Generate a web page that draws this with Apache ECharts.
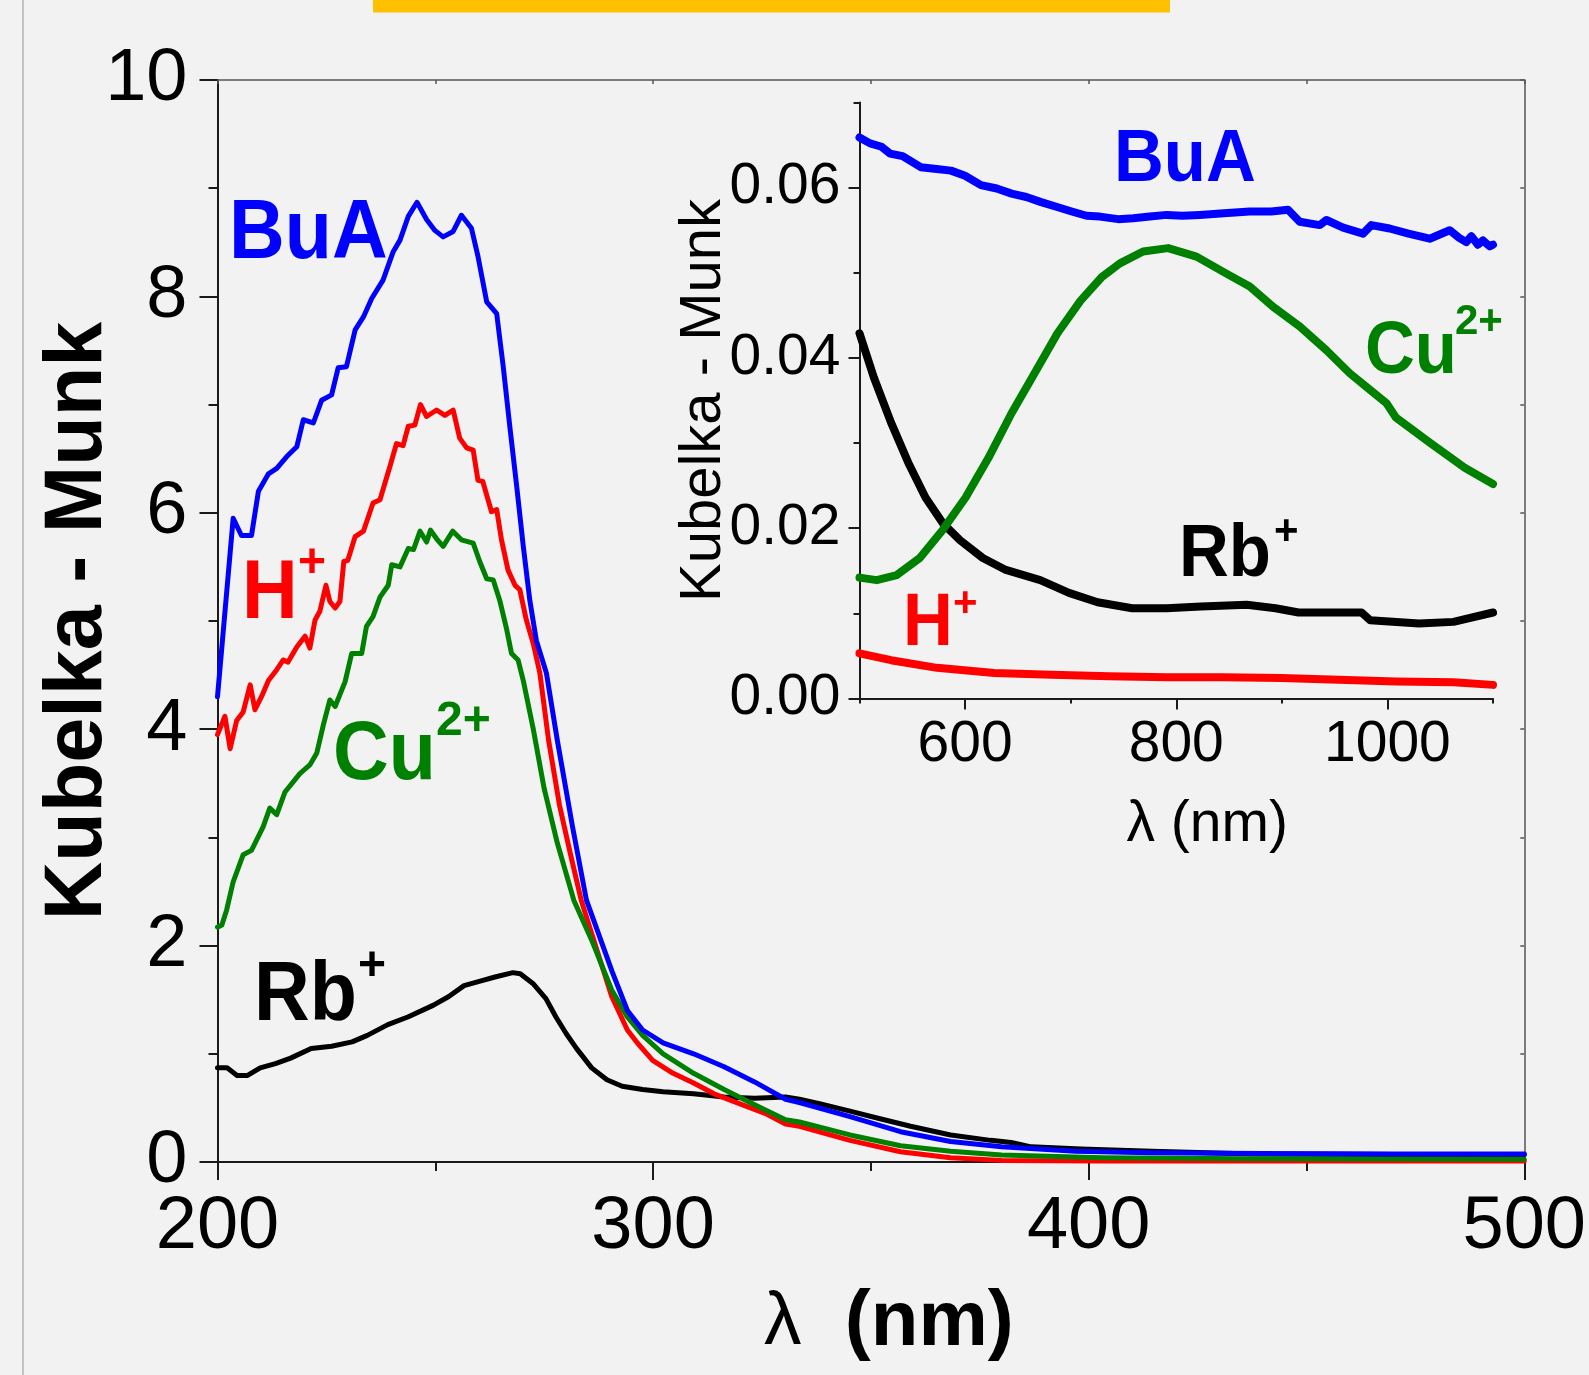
<!DOCTYPE html>
<html>
<head>
<meta charset="utf-8">
<script src="https://cdn.jsdelivr.net/npm/echarts@6/dist/echarts.min.js"></script>
<style>
  html, body { margin: 0; padding: 0; background: #f2f2f2; }
  #chart { width: 1589px; height: 1375px; }
</style>
</head>
<body>
<div id="chart"></div>
<script>
// main panel, lambda (nm) vs Kubelka-Munk
const buaMain = [[200,4.3],[203.6,5.95],[205.5,5.79],[207.8,5.79],[209.4,6.2],[211.7,6.36],[213.6,6.41],[215.9,6.52],[218.2,6.61],[219.7,6.86],[222,6.83],[223.9,7.04],[226.2,7.09],[227.7,7.34],[229.6,7.35],[231.6,7.69],[233.5,7.81],[235.4,7.98],[238,8.15],[240.3,8.41],[241.9,8.52],[243.8,8.74],[245.8,8.87],[248,8.71],[249.9,8.61],[251.8,8.55],[254.1,8.6],[256,8.75],[258.3,8.63],[259.8,8.37],[261.8,7.95],[264.1,7.84],[265.6,7.35],[267.1,6.8],[268.7,6.24],[270.2,5.69],[271.7,5.19],[273.2,4.82],[275.5,4.52],[278,3.9],[281.5,3.1],[284.7,2.42],[290.6,1.76],[294.1,1.4],[297.6,1.22],[302.3,1.1],[309.3,1.0],[316.3,0.88],[323.3,0.74],[330.4,0.58],[333.6,0.55],[345.2,0.42],[356.8,0.28],[368.3,0.19],[380,0.14],[397,0.1],[414,0.085],[440,0.078],[470,0.075],[500,0.074]];
const hMain = [[200,3.95],[201.7,4.12],[202.9,3.82],[204.4,4.08],[205.9,4.16],[207.5,4.41],[208.6,4.18],[210.1,4.3],[211.7,4.45],[213.6,4.55],[215.1,4.64],[216.2,4.62],[218.2,4.76],[220.1,4.86],[221.2,4.75],[222.4,5.01],[223.5,5.09],[224.9,5.33],[225.8,5.18],[227,5.12],[228.1,5.18],[229,5.55],[229.9,5.56],[231.6,5.78],[233.5,5.83],[235.7,6.09],[237.3,6.12],[239.6,6.43],[241.1,6.64],[242.6,6.62],[243.8,6.8],[245.3,6.81],[246.6,7.0],[248,6.89],[250.3,6.95],[252.2,6.9],[254.1,6.95],[255.6,6.69],[257.2,6.6],[258.7,6.58],[259.8,6.3],[260.9,6.29],[262.9,6.01],[264.1,6.03],[265.2,5.75],[266.7,5.47],[268.3,5.33],[269.4,5.29],[270.9,5.01],[272.5,4.79],[274,4.52],[276,3.9],[278.5,3.3],[281,2.85],[283.5,2.42],[287.1,1.96],[290.5,1.53],[294.1,1.22],[296.4,1.1],[299.9,0.94],[304.6,0.82],[309.3,0.73],[314,0.63],[319.8,0.54],[325.7,0.45],[330.4,0.35],[333.6,0.33],[345.2,0.2],[356.8,0.095],[368.3,0.04],[380,0.015],[403,0.01],[450,0.01],[500,0.01]];
const cuMain = [[200,2.17],[201,2.19],[202.1,2.33],[203.6,2.59],[205.9,2.84],[207.8,2.88],[210.5,3.1],[212,3.27],[213.6,3.21],[215.5,3.42],[218.9,3.59],[221.2,3.67],[222.8,3.78],[224.3,4.04],[225.8,4.27],[227,4.21],[229.3,4.44],[230.8,4.7],[233.1,4.7],[234.2,4.95],[235.7,5.04],[237.3,5.22],[239.2,5.33],[240,5.52],[241.9,5.5],[243.8,5.67],[245,5.66],[246.5,5.83],[248,5.73],[248.9,5.84],[250.3,5.76],[251.8,5.69],[254,5.83],[256,5.75],[258.7,5.72],[260.2,5.55],[261.8,5.39],[263.3,5.38],[264.8,5.19],[266.4,4.92],[267.5,4.7],[269,4.64],[270.2,4.45],[272.5,4.0],[275,3.45],[278,2.95],[281.8,2.42],[285.9,2.05],[290.5,1.59],[294.1,1.34],[297.6,1.17],[302.3,1.0],[309.3,0.82],[316.3,0.67],[323.3,0.53],[330.4,0.39],[333.6,0.37],[345.2,0.25],[356.8,0.15],[368.3,0.1],[380,0.065],[403,0.04],[437,0.03],[500,0.025]];
const rbMain = [[200,0.87],[202.2,0.87],[204.5,0.8],[206.9,0.8],[209.8,0.87],[213.3,0.91],[216.8,0.96],[221.5,1.05],[226.2,1.07],[230.9,1.11],[234.4,1.17],[239.1,1.27],[243.7,1.34],[249.6,1.45],[253.1,1.53],[256.6,1.63],[260.1,1.67],[263.7,1.71],[267.8,1.75],[269.5,1.74],[272.4,1.65],[275.4,1.51],[277.7,1.34],[280,1.19],[282.4,1.05],[285.9,0.87],[289.4,0.76],[292.9,0.7],[297.6,0.67],[302.3,0.65],[309.3,0.63],[316.3,0.6],[323.3,0.59],[330.4,0.6],[333.6,0.58],[338.2,0.54],[345.2,0.47],[352.1,0.4],[359.1,0.33],[368.3,0.25],[377.5,0.2],[382.2,0.18],[386.8,0.14],[398.3,0.12],[414.5,0.1],[437.6,0.075],[470,0.07],[500,0.07]];

// inset panel, 500-1100 nm
const buaInset = [[500,0.0659],[510,0.0652],[521,0.0648],[529,0.064],[540.8,0.0637],[558,0.0624],[573,0.0622],[586.6,0.062],[600,0.0614],[615,0.0603],[630,0.0599],[644,0.0593],[658,0.0589],[672,0.0583],[688,0.0577],[701,0.0572],[715,0.0567],[727.6,0.0566],[745,0.0563],[759.2,0.0564],[775,0.0566],[790.8,0.0568],[806,0.0567],[822.3,0.0568],[845,0.057],[869.6,0.0572],[890,0.0572],[905.9,0.0574],[916.9,0.056],[935.9,0.0556],[942.2,0.0562],[958,0.0553],[976.9,0.0546],[984.8,0.0556],[1002.1,0.0552],[1020,0.0546],[1040,0.054],[1058.9,0.055],[1068,0.0541],[1074.7,0.0536],[1079.5,0.0543],[1085.7,0.0533],[1090.5,0.0538],[1096.8,0.0531],[1100,0.0533]];
const cuInset = [[500,0.0142],[516.3,0.0139],[535.3,0.0145],[557.1,0.0165],[578.8,0.0198],[600.5,0.0236],[622.3,0.0283],[644,0.0335],[665.8,0.0382],[687.5,0.0429],[709.2,0.0467],[729.5,0.0495],[746.6,0.0511],[768.6,0.0525],[792.3,0.0529],[819.2,0.0519],[847.5,0.0499],[869.6,0.0484],[891.7,0.046],[917,0.0437],[942.2,0.0409],[964.3,0.0382],[980.1,0.0366],[999,0.0347],[1008,0.033],[1040.6,0.03],[1073.2,0.0271],[1100,0.0252]];
const rbInset = [[500,0.0429],[513.6,0.0377],[529.9,0.0324],[546.2,0.0277],[562.5,0.0236],[578.8,0.0206],[595.1,0.0186],[616.8,0.0165],[638.6,0.0151],[671.2,0.0139],[698.4,0.0124],[725.5,0.0113],[758.2,0.0106],[790.8,0.0106],[823.4,0.0108],[866.8,0.011],[894,0.0106],[915.8,0.0101],[975.5,0.0101],[983.7,0.0092],[1029.9,0.0088],[1062.5,0.009],[1100,0.0101]];
const hInset = [[500,0.0053],[529.9,0.0045],[573.4,0.0036],[627.7,0.003],[682,0.0028],[736.4,0.0026],[790.8,0.0025],[845,0.0025],[899.5,0.0024],[953.8,0.0022],[1008,0.002],[1062.5,0.0019],[1100,0.0016]];

const insetXTicks = [600, 800, 1000];
const insetXMinor = [500, 700, 900, 1100];
const insetYTicks = [0, 0.02, 0.04, 0.06];
const insetYMinor = [0.01, 0.03, 0.05, 0.07];

const FONT = '"Liberation Sans", Arial, sans-serif';
const AX = '#1a1a1a';
const FRAME = '#555';

const chart = echarts.init(document.getElementById('chart'));

const hidden = { splitLine: { show: false }, minorSplitLine: { show: false } };

function line(data, color, width, axis) {
    return {
        type: 'line', data, xAxisIndex: axis, yAxisIndex: axis,
        showSymbol: false, symbol: 'none', animation: false, silent: true,
        lineStyle: { color, width, cap: 'round', join: 'round' },
        itemStyle: { color },
    };
}

// label text with an optional superscript
function tag(txt, x, y, size, sx, color, sup, supX, supY, supSize) {
    const out = [{
        type: 'text', x, y, scaleX: sx, z: 100,
        style: { text: txt, fill: color, fontFamily: FONT, fontWeight: 'bold', fontSize: size, align: 'left', verticalAlign: 'middle' },
    }];
    if (sup) {
        out.push({
            type: 'text', x: supX, y: supY, z: 100,
            style: { text: sup, fill: color, fontFamily: FONT, fontWeight: 'bold', fontSize: supSize, align: 'left', verticalAlign: 'middle' },
        });
    }
    return out;
}

chart.setOption({
    backgroundColor: '#f2f2f2',
    textStyle: { fontFamily: FONT },
    animation: false,
    grid: [
        { left: 217.5, top: 80, right: 64, bottom: 213 },
        { left: 859.5, top: 102.5, right: 96, bottom: 676.5 },
        { left: 859.5, top: 102.5, right: 96, bottom: 676.5 },
    ],
    xAxis: [
        {
            gridIndex: 0, type: 'value', min: 200, max: 500, interval: 100, position: 'bottom', ...hidden,
            axisLine: { onZero: false, lineStyle: { color: AX, width: 2 } },
            axisTick: { length: 18, lineStyle: { color: AX, width: 2 } },
            minorTick: { show: true, splitNumber: 2, length: 9, lineStyle: { color: AX, width: 2 } },
            axisLabel: { fontSize: 74, color: '#000', margin: 29 },
            name: '{l|λ}  {b|(nm)}', nameLocation: 'middle', nameGap: 122, nameMoveOverlap: false,
            nameTextStyle: {
                fontSize: 78, fontWeight: 'bold', color: '#000', padding: [0, 0, 0, 36],
                rich: {
                    l: { fontSize: 75, fontWeight: 'normal', color: '#000' },
                    b: { fontSize: 78, fontWeight: 'bold', color: '#000' },
                },
            },
        },
        {
            gridIndex: 0, type: 'value', min: 200, max: 500, interval: 50, position: 'top', ...hidden,
            axisLine: { onZero: false, lineStyle: { color: FRAME, width: 1.5 } },
            axisTick: { inside: true, length: 4, lineStyle: { color: FRAME, width: 1.5 } },
            axisLabel: { show: false },
        },
        {
            gridIndex: 1, type: 'value', min: 500, max: 1100, ...hidden,
            axisLine: { onZero: false, lineStyle: { color: AX, width: 2 } },
            axisTick: { customValues: insetXTicks, length: 11, lineStyle: { color: AX, width: 2 } },
            axisLabel: { customValues: insetXTicks, fontSize: 57, color: '#000', margin: 18, formatter: v => String(v) },
            name: 'λ (nm)', nameLocation: 'middle', nameGap: 98, nameMoveOverlap: false,
            nameTextStyle: { fontSize: 57, color: '#000', padding: [0, 0, 0, 62] },
        },
        {
            gridIndex: 2, type: 'value', min: 500, max: 1100, ...hidden,
            axisLine: { show: false },
            axisTick: { customValues: insetXMinor, length: 5, lineStyle: { color: AX, width: 2 } },
            axisLabel: { show: false },
        },
    ],
    yAxis: [
        {
            gridIndex: 0, type: 'value', min: 0, max: 10, interval: 2, position: 'left', ...hidden,
            axisLine: { onZero: false, lineStyle: { color: AX, width: 2 } },
            axisTick: { length: 18, lineStyle: { color: AX, width: 2 } },
            minorTick: { show: true, splitNumber: 2, length: 9, lineStyle: { color: AX, width: 2 } },
            axisLabel: { fontSize: 74, color: '#000', margin: 30, padding: [0, 0, 8, 0] },
            name: 'Kubelka - Munk', nameLocation: 'middle', nameGap: 98, nameMoveOverlap: false,
            nameTextStyle: { fontSize: 81, fontWeight: 'bold', color: '#000' },
        },
        {
            gridIndex: 0, type: 'value', min: 0, max: 10, interval: 1, position: 'right', ...hidden,
            axisLine: { onZero: false, lineStyle: { color: FRAME, width: 1.5 } },
            axisTick: { inside: true, length: 4, lineStyle: { color: FRAME, width: 1.5 } },
            axisLabel: { show: false },
        },
        {
            gridIndex: 1, type: 'value', min: 0, max: 0.07, position: 'left', ...hidden,
            axisLine: { onZero: false, lineStyle: { color: AX, width: 2 } },
            axisTick: { customValues: insetYTicks, length: 11, lineStyle: { color: AX, width: 2 } },
            axisLabel: { customValues: insetYTicks, fontSize: 57, color: '#000', margin: 19, formatter: v => v.toFixed(2) },
            name: 'Kubelka - Munk', nameLocation: 'middle', nameGap: 127, nameMoveOverlap: false,
            nameTextStyle: { fontSize: 58, color: '#000' },
        },
        {
            gridIndex: 2, type: 'value', min: 0, max: 0.07, position: 'left', ...hidden,
            axisLine: { show: false },
            axisTick: { customValues: insetYMinor, length: 6, lineStyle: { color: AX, width: 2 } },
            axisLabel: { show: false },
        },
    ],
    series: [
        line(rbMain, '#000000', 5, 0),
        line(hMain, '#ff0000', 5, 0),
        line(cuMain, '#008000', 5, 0),
        line(buaMain, '#0000ff', 5, 0),
        line(hInset, '#ff0000', 8, 2),
        line(rbInset, '#000000', 8, 2),
        line(cuInset, '#008000', 8, 2),
        line(buaInset, '#0000ff', 8, 2),
    ],
    graphic: [
        { type: 'rect', shape: { x: 373, y: 0, width: 797, height: 12.5 }, style: { fill: '#ffc000' }, z: 50 },
        { type: 'rect', shape: { x: 22, y: 0, width: 2, height: 1375 }, style: { fill: '#c4c4c4' }, z: 50 },
        ...tag('BuA', 229, 235, 83, 0.93, '#0000ff'),
        ...tag('H', 242, 595, 83, 0.93, '#ff0000', '+', 298, 564, 48),
        ...tag('Cu', 333, 756, 83, 0.93, '#008000', '2+', 436, 722, 48),
        ...tag('Rb', 254, 997, 83, 0.93, '#000000', '+', 358, 967, 48),
        ...tag('BuA', 1114, 160, 75, 0.92, '#0000ff'),
        ...tag('Cu', 1365, 352, 75, 0.92, '#008000', '2+', 1455, 322, 42),
        ...tag('Rb', 1179, 555, 75, 0.92, '#000000', '+', 1274, 532, 42),
        ...tag('H', 903, 624, 75, 0.92, '#ff0000', '+', 953, 604, 42),
    ],
});
</script>
</body>
</html>
